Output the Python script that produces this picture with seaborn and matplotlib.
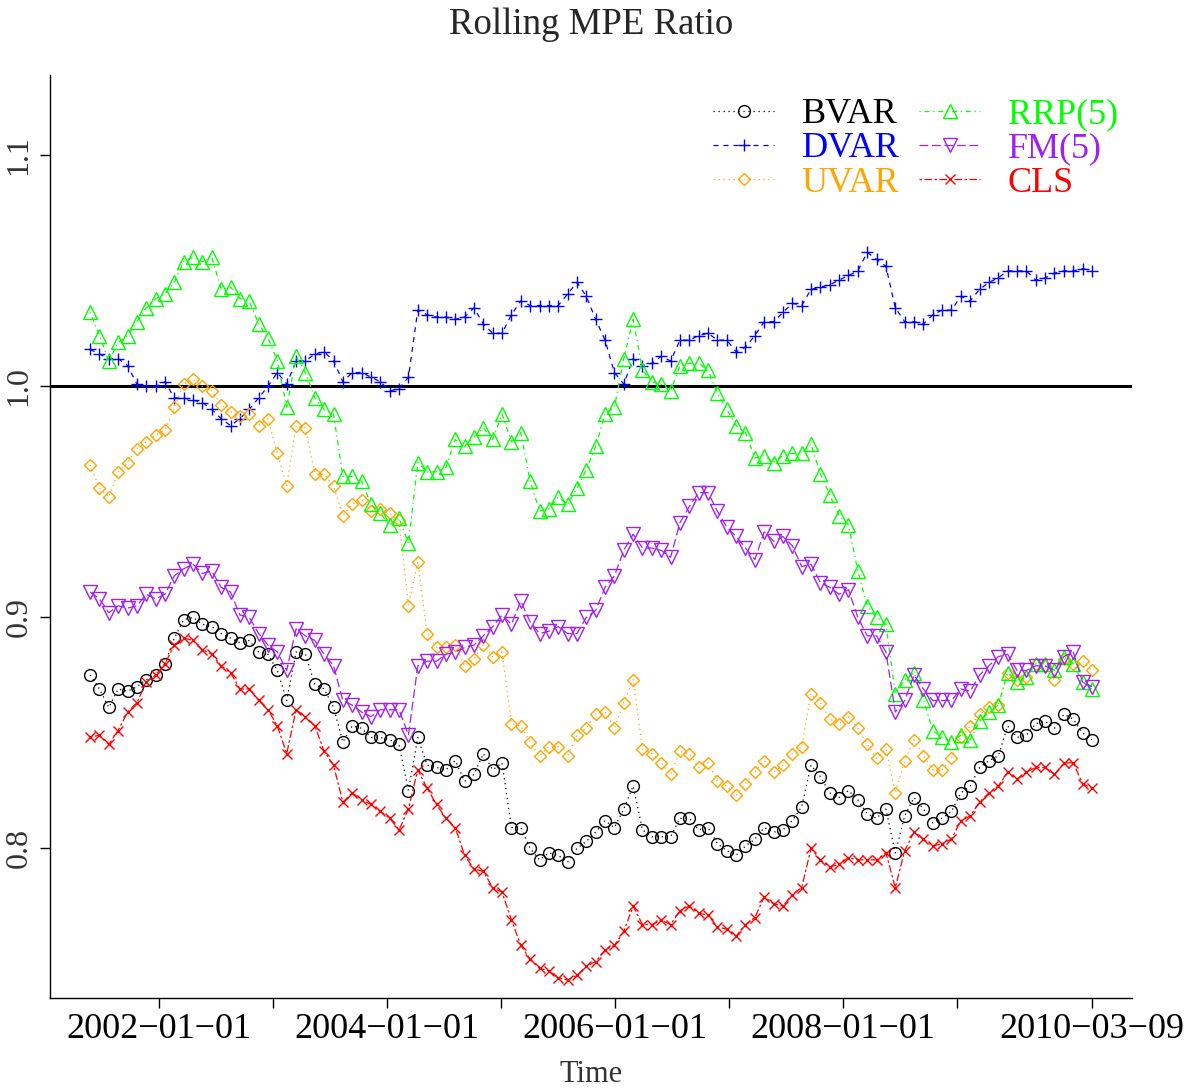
#!/usr/bin/env python3
"""Rolling MPE ratio of six forecasting models, one marker per 30-day step."""

import matplotlib

matplotlib.use("Agg")
import matplotlib.pyplot as plt
import matplotlib.dates as mdates
import numpy as np
import pandas as pd
import seaborn as sns

# -- data --------------------------------------------------------------------

END_DATE = "2010-03-09"
N_POINTS = 108
DATES = pd.date_range(end=END_DATE, periods=N_POINTS, freq="30D")

BVAR = [
    0.875, 0.869, 0.861, 0.869, 0.868, 0.870, 0.873, 0.875, 0.880, 0.891,
    0.899, 0.900, 0.897, 0.896, 0.893, 0.891, 0.889, 0.890, 0.885, 0.884,
    0.877, 0.864, 0.885, 0.884, 0.871, 0.869, 0.861, 0.846, 0.853, 0.852,
    0.848, 0.848, 0.847, 0.845, 0.825, 0.848, 0.836, 0.835, 0.834, 0.838,
    0.829, 0.832, 0.841, 0.834, 0.837, 0.809, 0.809, 0.800, 0.795, 0.798,
    0.797, 0.794, 0.800, 0.803, 0.807, 0.812, 0.809, 0.817, 0.827, 0.808,
    0.805, 0.805, 0.805, 0.813, 0.813, 0.808, 0.809, 0.802, 0.799, 0.797,
    0.801, 0.804, 0.809, 0.807, 0.808, 0.812, 0.818, 0.836, 0.831, 0.824,
    0.822, 0.825, 0.821, 0.815, 0.813, 0.817, 0.798, 0.814, 0.822, 0.817,
    0.811, 0.813, 0.816, 0.824, 0.827, 0.835, 0.838, 0.840, 0.853, 0.848,
    0.849, 0.854, 0.855, 0.852, 0.858, 0.856, 0.850, 0.847,
]

DVAR = [
    1.016, 1.014, 1.012, 1.012, 1.009, 1.001, 1.000, 1.000, 1.002, 0.995,
    0.995, 0.994, 0.993, 0.990, 0.986, 0.983, 0.986, 0.990, 0.995, 1.000,
    1.006, 1.001, 1.011, 1.011, 1.014, 1.015, 1.011, 1.002, 1.006, 1.006,
    1.004, 1.002, 0.998, 0.999, 1.004, 1.033, 1.031, 1.030, 1.030, 1.029,
    1.030, 1.034, 1.027, 1.023, 1.023, 1.031, 1.037, 1.035, 1.035, 1.035,
    1.035, 1.040, 1.045, 1.039, 1.029, 1.020, 1.006, 1.001, 1.012, 1.009,
    1.010, 1.013, 1.011, 1.020, 1.020, 1.022, 1.023, 1.020, 1.020, 1.015,
    1.017, 1.022, 1.028, 1.028, 1.032, 1.036, 1.035, 1.042, 1.043, 1.044,
    1.046, 1.048, 1.050, 1.058, 1.055, 1.052, 1.034, 1.028, 1.028, 1.027,
    1.031, 1.033, 1.033, 1.039, 1.037, 1.042, 1.045, 1.047, 1.050, 1.050,
    1.050, 1.046, 1.047, 1.049, 1.050, 1.050, 1.051, 1.050,
]

UVAR = [
    0.966, 0.956, 0.952, 0.963, 0.967, 0.973, 0.976, 0.979, 0.981, 0.991,
    1.001, 1.003, 1.000, 0.998, 0.992, 0.989, 0.987, 0.988, 0.983, 0.986,
    0.971, 0.957, 0.983, 0.982, 0.962, 0.962, 0.957, 0.944, 0.949, 0.951,
    0.946, 0.947, 0.945, 0.942, 0.905, 0.924, 0.893, 0.887, 0.887, 0.888,
    0.879, 0.882, 0.888, 0.883, 0.885, 0.854, 0.853, 0.846, 0.840, 0.844,
    0.844, 0.840, 0.849, 0.852, 0.858, 0.859, 0.852, 0.863, 0.873, 0.843,
    0.841, 0.837, 0.832, 0.842, 0.841, 0.835, 0.837, 0.829, 0.827, 0.823,
    0.828, 0.833, 0.838, 0.833, 0.836, 0.841, 0.844, 0.867, 0.863, 0.856,
    0.854, 0.857, 0.852, 0.845, 0.839, 0.843, 0.824, 0.838, 0.847, 0.840,
    0.834, 0.834, 0.839, 0.848, 0.853, 0.858, 0.861, 0.862, 0.876, 0.873,
    0.874, 0.880, 0.879, 0.873, 0.882, 0.880, 0.881, 0.877,
]

RRP5 = [
    1.032, 1.022, 1.011, 1.019, 1.022, 1.028, 1.034, 1.038, 1.040, 1.045,
    1.054, 1.056, 1.054, 1.056, 1.042, 1.043, 1.038, 1.037, 1.027, 1.021,
    1.011, 0.991, 1.013, 1.006, 0.995, 0.990, 0.988, 0.961, 0.961, 0.959,
    0.949, 0.945, 0.940, 0.943, 0.932, 0.967, 0.963, 0.963, 0.965, 0.977,
    0.974, 0.978, 0.982, 0.977, 0.988, 0.976, 0.980, 0.959, 0.946, 0.947,
    0.952, 0.949, 0.956, 0.964, 0.974, 0.988, 0.991, 1.012, 1.029, 1.007,
    1.002, 1.001, 0.998, 1.009, 1.010, 1.010, 1.007, 0.997, 0.990, 0.983,
    0.980, 0.969, 0.970, 0.967, 0.970, 0.971, 0.971, 0.975, 0.962, 0.953,
    0.944, 0.940, 0.920, 0.905, 0.900, 0.897, 0.867, 0.873, 0.876, 0.864,
    0.851, 0.848, 0.846, 0.849, 0.847, 0.855, 0.859, 0.862, 0.876, 0.872,
    0.874, 0.880, 0.880, 0.877, 0.883, 0.880, 0.872, 0.869,
]

FM5 = [
    0.911, 0.908, 0.902, 0.905, 0.904, 0.905, 0.910, 0.908, 0.910, 0.918,
    0.921, 0.923, 0.919, 0.920, 0.913, 0.911, 0.901, 0.900, 0.893, 0.888,
    0.885, 0.877, 0.895, 0.892, 0.890, 0.884, 0.879, 0.864, 0.862, 0.859,
    0.857, 0.860, 0.860, 0.860, 0.849, 0.879, 0.881, 0.881, 0.884, 0.885,
    0.887, 0.888, 0.892, 0.896, 0.901, 0.897, 0.907, 0.898, 0.893, 0.894,
    0.896, 0.893, 0.893, 0.900, 0.903, 0.913, 0.918, 0.929, 0.936, 0.930,
    0.930, 0.929, 0.926, 0.941, 0.948, 0.954, 0.954, 0.946, 0.939, 0.935,
    0.930, 0.925, 0.937, 0.933, 0.935, 0.931, 0.922, 0.923, 0.915, 0.913,
    0.910, 0.912, 0.900, 0.892, 0.892, 0.885, 0.859, 0.864, 0.875, 0.869,
    0.864, 0.864, 0.864, 0.869, 0.868, 0.875, 0.879, 0.883, 0.884, 0.877,
    0.877, 0.879, 0.879, 0.877, 0.883, 0.885, 0.872, 0.870,
]

CLS = [
    0.848, 0.849, 0.845, 0.851, 0.859, 0.863, 0.872, 0.875, 0.880, 0.888,
    0.891, 0.890, 0.886, 0.884, 0.879, 0.876, 0.869, 0.869, 0.864, 0.860,
    0.853, 0.841, 0.860, 0.857, 0.853, 0.842, 0.836, 0.820, 0.824, 0.821,
    0.819, 0.816, 0.813, 0.808, 0.817, 0.834, 0.826, 0.819, 0.813, 0.809,
    0.797, 0.791, 0.790, 0.783, 0.781, 0.769, 0.758, 0.752, 0.748, 0.747,
    0.744, 0.743, 0.745, 0.749, 0.751, 0.756, 0.758, 0.764, 0.775, 0.767,
    0.767, 0.769, 0.767, 0.773, 0.775, 0.772, 0.771, 0.766, 0.765, 0.762,
    0.767, 0.770, 0.779, 0.776, 0.775, 0.780, 0.783, 0.800, 0.795, 0.792,
    0.793, 0.796, 0.795, 0.795, 0.795, 0.798, 0.783, 0.799, 0.807, 0.804,
    0.801, 0.802, 0.804, 0.812, 0.814, 0.820, 0.824, 0.827, 0.833, 0.830,
    0.833, 0.835, 0.835, 0.832, 0.837, 0.837, 0.828, 0.826,
]

SERIES = {
    "BVAR": BVAR,
    "DVAR": DVAR,
    "UVAR": UVAR,
    "RRP(5)": RRP5,
    "FM(5)": FM5,
    "CLS": CLS,
}

Y_RANGE = (0.75, 1.12)
TICK_YEARS = list(range(2002, 2010))

# -- style -------------------------------------------------------------------

# R-like line types: 3 dotted, 2 dashed, 4 dotdash, 5 longdash, 6 twodash
_STYLE = {
    "BVAR": dict(color="black", marker="o", ms=8.5, ls=(0, (1, 3))),
    "DVAR": dict(color="#0000FF", marker="+", ms=9.0, ls=(0, (4, 4))),
    "UVAR": dict(color="#FFA500", marker="D", ms=6.4, ls=(0, (1, 3))),
    "RRP(5)": dict(color="#00FF00", marker="^", ms=10.5, ls=(0, (1, 3, 4, 3))),
    "FM(5)": dict(color="#A020F0", marker="v", ms=10.5, ls=(0, (7, 3))),
    "CLS": dict(color="#FF0000", marker="x", ms=7.8, ls=(0, (2, 2, 6, 2))),
}

sns.set_style("ticks")
plt.rcParams.update(
    {
        "font.family": ["Liberation Serif", "DejaVu Serif"],
        "axes.edgecolor": "black",
        "axes.linewidth": 1.0,
        "xtick.color": "black",
        "ytick.color": "black",
    }
)


def main():
    fig = plt.figure(figsize=(11.95, 10.88), dpi=100)
    ax = fig.add_axes([50 / 1195, 1 - 998 / 1088, 1082 / 1195, 923 / 1088])

    for name, values in SERIES.items():
        st = _STYLE[name]
        df = pd.DataFrame({"date": DATES, "value": values})
        sns.lineplot(
            data=df,
            x="date",
            y="value",
            estimator=None,
            sort=False,
            color=st["color"],
            linestyle=st["ls"],
            linewidth=0.9,
            marker=st["marker"],
            markersize=st["ms"],
            markerfacecolor="none",
            markeredgecolor=st["color"],
            markeredgewidth=1.0,
            label=name,
            legend=False,
            ax=ax,
        )

    ax.axhline(1.0, color="black", linewidth=2.2, zorder=1)

    # R style 4% padding on both axes
    x0, x1 = mdates.date2num(DATES[0]), mdates.date2num(DATES[-1])
    pad = 0.04 * (x1 - x0)
    ax.set_xlim(x0 - pad, x1 + pad)
    ypad = 0.04 * (Y_RANGE[1] - Y_RANGE[0])
    ax.set_ylim(Y_RANGE[0] - ypad, Y_RANGE[1] + ypad)

    ticks = [pd.Timestamp(f"{y}-01-01") for y in TICK_YEARS] + [DATES[-1]]
    labels = []
    for t in ticks:
        if t == DATES[-1] or t.year % 2 == 0:
            labels.append(t.strftime("%Y\u2212%m\u2212%d"))
        else:
            labels.append("")
    ax.set_xticks(mdates.date2num(ticks))
    ax.set_xticklabels(labels, fontsize=26)
    ax.set_yticks([0.8, 0.9, 1.0, 1.1])
    ax.set_yticklabels(["0.8", "0.9", "1.0", "1.1"], rotation=90,
                       va="center", fontsize=23, color="#333333")
    ax.tick_params(axis="both", direction="out", length=7, width=1.0)
    ax.tick_params(axis="x", pad=4)
    ax.tick_params(axis="y", pad=5)

    ax.set_xlabel("")
    ax.set_ylabel("")
    ax.text(0.5, -76 / 923, "Time", transform=ax.transAxes,
            ha="center", va="center", fontsize=22, color="#333333")
    ax.text(0.5, 1 + 50 / 923, "Rolling MPE Ratio", transform=ax.transAxes,
            ha="center", va="center", fontsize=26.5)

    sns.despine(ax=ax)

    handles, names = ax.get_legend_handles_labels()
    ax.legend(
        handles,
        names,
        ncol=2,
        loc="upper left",
        bbox_to_anchor=((713 - 50) / 1082, 1 - (98 - 75) / 923),
        frameon=False,
        fontsize=26,
        labelcolor="linecolor",
        handlelength=1.7,
        handletextpad=0.75,
        columnspacing=0.55,
        labelspacing=0.025,
        borderpad=0.0,
        borderaxespad=0.0,
    )

    fig.savefig("out.png", dpi=100)
    plt.close(fig)


if __name__ == "__main__":
    main()
